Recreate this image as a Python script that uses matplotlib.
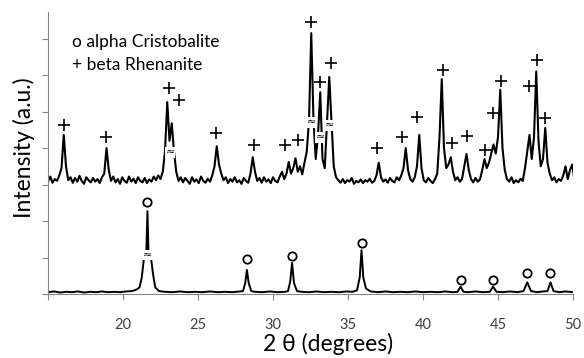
import numpy as np
import matplotlib.pyplot as plt

plt.rcParams['font.family'] = ['Lato', 'DejaVu Sans']

# upper pattern (beta Rhenanite), one value per 0.15 deg step from 15.0
upper_start, upper_step = 15.0, 0.15
upper_counts = [
    3.08, 3.22, 3.05, 3.15, 3.10, 3.25, 3.45, 4.36, 3.50, 3.12,
    3.20, 3.05, 3.18, 3.08, 3.24, 3.10, 3.02, 3.20, 3.12, 3.06,
    3.18, 3.08, 3.15, 3.04, 3.20, 3.30, 4.00, 3.40, 3.10, 3.22,
    3.06, 3.15, 3.02, 3.20, 3.10, 3.05, 3.22, 3.08, 3.16, 3.04,
    3.20, 3.10, 3.06, 3.18, 3.04, 3.14, 3.08, 3.22, 3.12, 3.25,
    3.15, 3.35, 3.90, 5.26, 4.20, 4.68, 3.90, 3.35, 3.10, 3.20,
    3.06, 3.18, 3.10, 3.02, 3.20, 3.08, 3.14, 3.04, 3.22, 3.10,
    3.05, 3.16, 3.08, 3.25, 3.50, 4.05, 3.55, 3.30, 3.12, 3.20,
    3.04, 3.15, 3.08, 3.20, 3.06, 3.12, 3.02, 3.18, 3.10, 3.05,
    3.30, 3.75, 3.35, 3.10, 3.18, 3.05, 3.20, 3.08, 3.14, 3.04,
    3.20, 3.10, 3.06, 3.22, 3.35, 3.15, 3.30, 3.62, 3.30, 3.45,
    3.72, 3.35, 3.50, 3.28, 3.60, 3.90, 4.75, 7.15, 4.75, 3.70,
    4.35, 5.53, 3.70, 3.45, 4.70, 5.95, 4.70, 3.50, 3.20, 3.12,
    3.05, 3.15, 3.04, 3.12, 3.08, 3.18, 3.02, 3.10, 3.06, 3.14,
    3.04, 3.12, 3.08, 3.16, 3.05, 3.10, 3.25, 3.60, 3.20, 3.08,
    3.14, 3.05, 3.18, 3.10, 3.06, 3.20, 3.12, 3.25, 3.45, 4.00,
    3.40, 3.15, 3.08, 3.20, 3.50, 4.36, 3.45, 3.12, 3.06, 3.18,
    3.10, 3.04, 3.15, 3.30, 4.30, 5.89, 4.00, 3.45, 3.55, 3.75,
    3.35, 3.12, 3.20, 3.08, 3.15, 3.50, 3.84, 3.40, 3.15, 3.06,
    3.18, 3.08, 3.14, 3.40, 3.70, 3.45, 3.60, 3.85, 4.10, 3.85,
    4.30, 5.60, 4.00, 3.40, 3.15, 3.08, 3.20, 3.04, 3.12, 3.06,
    3.16, 3.10, 3.45, 3.90, 4.36, 3.70, 4.30, 6.10, 4.20, 3.50,
    3.70, 4.55, 3.60, 3.30, 3.12, 3.20, 3.06, 3.15, 3.10, 3.25,
    3.50, 3.15, 3.40, 3.55, 3.10,
]
upper_theta = upper_start + upper_step * np.arange(len(upper_counts))

# lower pattern (alpha Cristobalite), (2theta, intensity)
lower_trace = [
    (15.0, 0.05), (15.4, 0.07), (15.8, 0.04), (16.2, 0.06), (16.6, 0.05),
    (17.0, 0.07), (17.4, 0.04), (17.8, 0.06), (18.2, 0.05), (18.6, 0.07),
    (19.0, 0.05), (19.4, 0.06), (19.8, 0.05), (20.2, 0.07), (20.6, 0.08),
    (20.9, 0.12), (21.1, 0.18), (21.25, 0.45), (21.4, 1.0), (21.55, 1.1),
    (21.63, 2.27), (21.7, 1.12), (21.85, 1.05), (22.0, 0.55), (22.15, 0.18),
    (22.4, 0.08), (22.8, 0.06), (23.3, 0.05), (23.8, 0.07), (24.3, 0.05),
    (24.8, 0.06), (25.3, 0.05), (25.8, 0.07), (26.3, 0.05), (26.8, 0.06),
    (27.3, 0.05), (27.8, 0.07), (28.0, 0.08), (28.15, 0.3), (28.26, 0.66),
    (28.38, 0.3), (28.55, 0.08), (28.8, 0.06), (29.3, 0.05), (29.8, 0.07),
    (30.3, 0.05), (30.8, 0.06), (31.0, 0.08), (31.15, 0.35), (31.27, 0.85),
    (31.4, 0.3), (31.6, 0.08), (31.9, 0.06), (32.4, 0.05), (32.9, 0.07),
    (33.4, 0.05), (33.9, 0.06), (34.4, 0.05), (34.9, 0.07), (35.3, 0.06),
    (35.6, 0.1), (35.78, 0.45), (35.9, 1.2), (36.02, 0.45), (36.2, 0.15),
    (36.5, 0.07), (37.0, 0.05), (37.5, 0.07), (38.0, 0.05), (38.5, 0.06),
    (39.0, 0.05), (39.5, 0.07), (40.0, 0.05), (40.5, 0.06), (41.0, 0.05),
    (41.5, 0.07), (42.0, 0.05), (42.3, 0.06), (42.5, 0.2), (42.7, 0.06),
    (43.0, 0.05), (43.5, 0.07), (44.0, 0.05), (44.45, 0.06), (44.67, 0.2),
    (44.9, 0.06), (45.3, 0.05), (45.8, 0.07), (46.3, 0.05), (46.7, 0.08),
    (46.95, 0.32), (47.2, 0.08), (47.6, 0.05), (48.0, 0.07), (48.3, 0.08),
    (48.5, 0.32), (48.7, 0.08), (49.1, 0.05), (49.5, 0.07), (50.0, 0.05),
]
lower_theta = [p[0] for p in lower_trace]
lower_counts = [p[1] for p in lower_trace]

# peak labels
plus_x = [16.07, 18.88, 23.04, 23.71, 26.19, 28.73, 30.81, 31.68, 32.55, 33.15,
          33.89, 36.9, 38.58, 39.58, 41.32, 41.93, 42.93, 44.14, 44.67, 45.21,
          47.08, 47.62, 48.15]
plus_y = [4.63, 4.30, 5.64, 5.32, 4.41, 4.08, 4.08, 4.22, 7.45, 5.81,
          6.33, 4.0, 4.30, 4.85, 6.14, 4.14, 4.33, 3.95, 4.96, 5.84,
          5.70, 6.41, 4.82]
circ_x = [21.63, 28.26, 31.27, 35.9, 42.53, 44.67, 46.95, 48.49]
circ_y = [2.52, 0.96, 1.04, 1.40, 0.38, 0.38, 0.58, 0.58]

# axis breaks drawn on truncated peaks
break_x = [21.63, 23.15, 32.55, 33.15, 33.75]
break_y = [1.07, 3.89, 4.71, 4.30, 4.63]

xticks = [15, 20, 25, 30, 35, 40, 45, 50]
xtick_labels = ['', '20', '25', '30', '35', '40', '45', '50']

fig = plt.figure(figsize=(5.84, 3.58), dpi=100)
ax = fig.add_axes([48 / 584, 1 - 294 / 358, 525 / 584, 282 / 358])

ax.plot(upper_theta, upper_counts, color='black', lw=1.5)
ax.plot(lower_theta, lower_counts, color='black', lw=1.4)

for bx, by in zip(break_x, break_y):
    ax.text(bx, by, '\u2248', ha='center', va='center', fontsize=8,
            family='DejaVu Sans',
            bbox=dict(fc='white', ec='none', pad=0.3))

ax.plot(plus_x, plus_y, '+', color='black', ms=8, mew=1.2, ls='none')
ax.plot(circ_x, circ_y, 'o', mfc='white', mec='black', ms=6, mew=1.3, ls='none')

ax.set_xlim(15, 50)
ax.set_ylim(0, 7.73)
ax.set_xticks(xticks)
ax.set_xticklabels(xtick_labels)
ax.set_yticks(range(0, 8))
ax.set_yticklabels([])
for s in ['top', 'right']:
    ax.spines[s].set_visible(False)
for s in ['left', 'bottom']:
    ax.spines[s].set_color('#868686')
ax.tick_params(direction='out', length=4, color='#868686')
ax.tick_params(axis='x', pad=13, labelsize=10.5, labelcolor='#404040')

fig.text(24 / 584, 1 - 148 / 358, 'Intensity (a.u.)', rotation=90,
         ha='center', va='center', fontsize=16.5)
fig.text(328 / 584, 1 - 344 / 358, '2 \u03b8 (degrees)',
         ha='center', va='center', fontsize=16.5)

fig.text(72 / 584, 1 - 42 / 358, 'o alpha Cristobalite', va='center', fontsize=12.5)
fig.text(72 / 584, 1 - 65 / 358, '+ beta Rhenanite', va='center', fontsize=12.5)

fig.savefig('out.png', dpi=100)
